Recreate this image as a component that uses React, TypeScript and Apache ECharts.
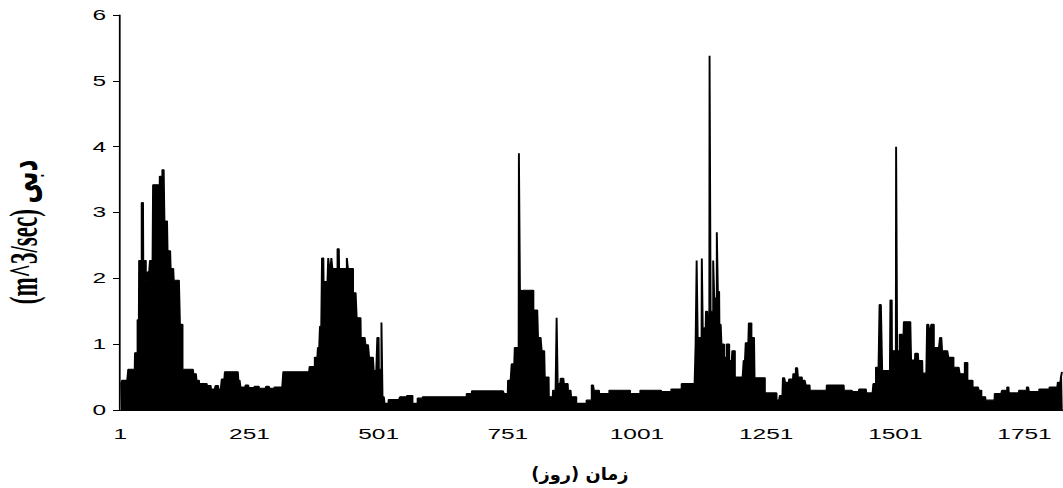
import React, { useEffect, useRef } from "react";
import * as echarts from "echarts";

const runsYear1: [number, number][] = [
  [0.41, 4], [0.45, 12], [0.62, 13], [0.87, 5], [1.37, 3], [2.27, 5], [3.15, 3], [2.27, 5],
  [1.97, 4], [2.1, 4], [2.27, 6], [3.42, 10], [3.15, 3], [3.55, 5], [3.65, 4], [2.87, 6],
  [2.42, 6], [2.15, 6], [1.97, 12], [1.3, 5], [0.62, 21], [0.55, 6], [0.45, 5], [0.4, 15],
  [0.37, 8], [0.32, 9], [0.37, 5], [0.32, 7], [0.47, 6], [0.58, 26], [0.45, 4], [0.35, 10],
  [0.38, 6], [0.34, 12], [0.36, 8], [0.33, 14], [0.36, 6], [0.33, 10], [0.35, 17], [0.58, 51],
];
const runsYear2: [number, number][] = [
  [0.66, 10], [0.8, 6], [0.95, 4], [1.27, 4], [2.31, 3], [1.95, 9], [2.31, 2], [2.15, 4],
  [2.31, 2], [2.15, 10], [2.45, 3], [2.15, 15], [2.31, 2], [2.15, 10], [1.78, 7], [1.4, 8],
  [1.1, 9], [0.99, 7], [0.8, 9], [0.6, 7], [1.1, 3], [0.62, 5], [1.33, 2], [0.2, 4],
  [0.1, 8], [0.16, 22], [0.2, 14], [0.22, 10], [0.1, 10], [0.18, 10], [0.2, 85], [0.25, 10],
  [0.29, 62],
];
const runsYear3: [number, number][] = [
  [0.25, 8], [0.45, 7], [0.7, 6], [0.95, 8], [3.9, 2], [1.82, 4], [1.5, 2], [1.82, 20],
  [1.52, 9], [1.1, 7], [0.9, 6], [0.5, 8], [0.2, 8], [0.3, 7], [1.4, 2], [0.4, 6],
  [0.48, 6], [0.4, 8], [0.3, 6], [0.2, 10], [0.1, 20], [0.15, 10], [0.38, 4], [0.3, 10],
  [0.25, 20], [0.3, 40], [0.25, 20], [0.3, 40], [0.28, 20], [0.32, 20], [0.4, 27],
];
const runsYear4: [number, number][] = [
  [1.0, 2], [2.27, 2], [1.1, 8], [2.3, 2], [1.1, 3], [1.25, 3], [1.5, 4], [1.2, 3],
  [5.38, 2], [1.5, 5], [2.27, 2], [1.7, 5], [2.7, 2], [1.8, 3], [1.3, 4], [1.0, 5],
  [0.8, 5], [1.0, 5], [0.75, 6], [0.9, 5], [0.5, 17], [0.75, 4], [1.02, 6], [1.32, 5],
  [1.1, 6], [0.49, 20], [0.26, 23], [0, 2], [0.15, 4], [0.22, 6], [0.49, 4], [0.42, 8],
  [0.47, 8], [0.55, 5], [0.64, 4], [0.5, 8], [0.45, 7], [0.38, 8], [0.3, 33], [0.38, 33],
  [0.3, 16], [0.28, 14], [0.32, 13], [0.26, 14],
];
const runsYear5: [number, number][] = [
  [0.4, 5], [0.65, 7], [1.6, 3], [1.4, 2], [0.6, 16], [1.67, 3], [0.9, 8], [4.0, 2],
  [0.9, 5], [1.15, 8], [1.34, 14], [0.76, 8], [0.86, 6], [0.75, 8], [0.56, 9], [1.3, 4],
  [1.2, 4], [1.3, 5], [0.95, 12], [1.1, 4], [0.9, 12], [0.8, 10], [0.65, 12], [0.55, 10],
  [0.72, 5], [0.45, 10], [0.35, 12], [0.3, 5], [0.2, 8], [0.15, 18], [0.25, 14], [0.3, 10],
  [0.35, 3], [0.26, 20], [0.3, 15], [0.35, 4], [0.28, 20], [0.32, 20], [0.35, 16], [0.42, 6],
  [0.5, 2], [0.58, 2],
];

const yTicks = [0, 1, 2, 3, 4, 5, 6];
const xLabelStep = 250;
const xTitle = "\u200Fزمان (روز)\u200F";
const yTitle = "(m^3/sec) دبی";

// The reference figure is horizontally stretched; draw at a narrower width and stretch.
const OUT_W = 1063;
const OUT_H = 488;
const INNER_W = 608;
const SX = OUT_W / INNER_W;

function expand(runs: [number, number][]): number[] {
  const out: number[] = [];
  runs.forEach(([v, n]) => {
    for (let i = 0; i < n; i++) out.push(v);
  });
  return out;
}

export default function App() {
  const ref = useRef<HTMLDivElement>(null);
  useEffect(() => {
    if (!ref.current) return;
    const chart = echarts.init(ref.current, undefined, { renderer: "svg" });
    const values = [
      ...expand(runsYear1),
      ...expand(runsYear2),
      ...expand(runsYear3),
      ...expand(runsYear4),
      ...expand(runsYear5),
    ];
    const days = values.map((_, i) => String(i + 1));
    chart.setOption({
      animation: false,
      backgroundColor: "#ffffff",
      grid: { left: 120 / SX, right: 0, top: 15, bottom: 78, containLabel: false },
      xAxis: {
        type: "category",
        data: days,
        boundaryGap: true,
        axisLine: { show: true, lineStyle: { color: "#000", width: 1 } },
        axisTick: { show: false },
        axisLabel: {
          interval: (index: number) => index % xLabelStep === 0,
          color: "#000",
          fontSize: 14,
          fontFamily: "Liberation Sans, Arial, sans-serif",
          margin: 17,
          hideOverlap: false,
        },
        splitLine: { show: false },
      },
      yAxis: {
        type: "value",
        min: yTicks[0],
        max: yTicks[yTicks.length - 1],
        interval: 1,
        axisLine: { show: true, lineStyle: { color: "#000", width: 1 } },
        axisTick: { show: true, length: 4, lineStyle: { color: "#000" } },
        axisLabel: {
          color: "#000",
          fontSize: 14,
          fontFamily: "Liberation Sans, Arial, sans-serif",
          margin: 8,
        },
        splitLine: { show: false },
      },
      graphic: [
        {
          type: "text",
          x: 580 / SX,
          y: 474,
          scaleX: 0.6,
          style: {
            text: xTitle,
            fill: "#000",
            font: "bold 17px 'DejaVu Sans', sans-serif",
            textAlign: "center",
            textVerticalAlign: "middle",
          },
        },
        {
          type: "text",
          x: 23 / SX,
          y: 232,
          rotation: Math.PI / 2,
          style: {
            text: yTitle,
            fill: "#000",
            font: "bold 23px 'Liberation Serif', 'DejaVu Sans', serif",
            textAlign: "center",
            textVerticalAlign: "middle",
          },
        },
      ],
      series: [
        {
          type: "line",
          data: values,
          step: "middle",
          symbol: "none",
          lineStyle: { color: "#000", width: 1.1 },
          areaStyle: { color: "#000", opacity: 1 },
          silent: true,
        },
      ],
    });
    return () => chart.dispose();
  }, []);
  return (
    <div
      style={{
        position: "fixed",
        left: 0,
        top: 0,
        width: OUT_W,
        height: OUT_H,
        overflow: "hidden",
        background: "#fff",
      }}
    >
      <div
        ref={ref}
        style={{
          width: INNER_W,
          height: OUT_H,
          transform: `scaleX(${SX})`,
          transformOrigin: "0 0",
        }}
      />
    </div>
  );
}
